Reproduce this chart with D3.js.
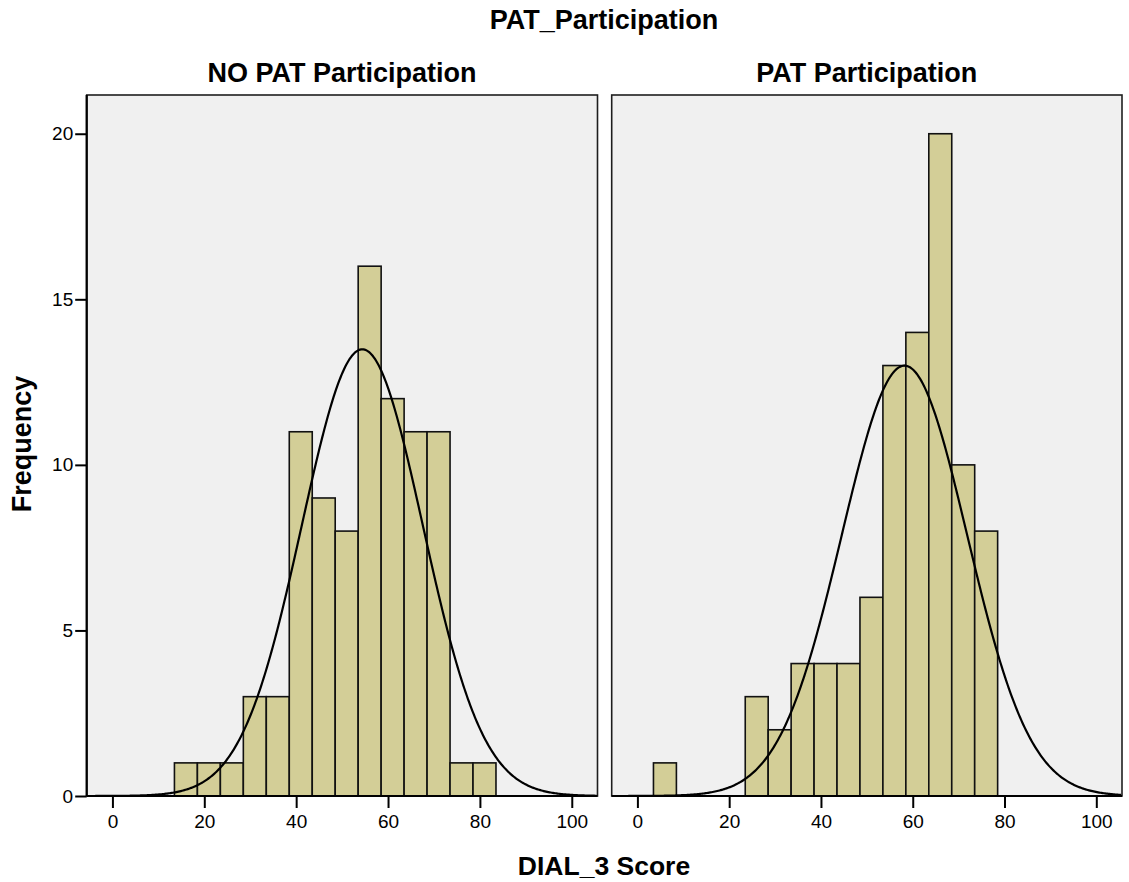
<!DOCTYPE html>
<html>
<head>
<meta charset="utf-8">
<script src="https://cdn.jsdelivr.net/npm/d3@7"></script>
<style>
  html, body { margin: 0; padding: 0; background: #ffffff; }
  svg { display: block; font-family: "Liberation Sans", Arial, sans-serif; }
</style>
</head>
<body>
<svg id="chart" width="1129" height="882"></svg>
<script>
// ---------- data ----------
const chartTitle = "PAT_Participation";
const panelTitles = ["NO PAT Participation", "PAT Participation"];
const xLabel = "DIAL_3 Score";
const yLabel = "Frequency";
const binWidth = 5;

const noPatBinStarts = [13.5, 18.5, 23.5, 28.5, 33.5, 38.5, 43.5, 48.5, 53.5, 58.5, 63.5, 68.5, 73.5, 78.5];
const noPatCounts    = [1, 1, 1, 3, 3, 11, 9, 8, 16, 12, 11, 11, 1, 1];
const patBinStarts   = [3.5, 23.5, 28.5, 33.5, 38.5, 43.5, 48.5, 53.5, 58.5, 63.5, 68.5, 73.5];
const patCounts      = [1, 3, 2, 4, 4, 4, 6, 13, 14, 20, 10, 8];

// fitted normal curves: [mean, std. deviation, N]
const noPatNormal = [54.4, 13.16, 89];
const patNormal   = [58.2, 13.66, 89];

const xTicks = [0, 20, 40, 60, 80, 100];
const yTicks = [0, 5, 10, 15, 20];
const xDomain = [-5.6, 105.6];
const yDomain = [0, 21.17];

// ---------- layout ----------
const svg = d3.select("#chart");
const panelTop = 95, panelBottom = 796;
const panels = [
  { x0: 86.7, x1: 597.5, starts: noPatBinStarts, counts: noPatCounts, fit: noPatNormal, title: panelTitles[0], yAxis: true },
  { x0: 611.7, x1: 1122, starts: patBinStarts, counts: patCounts, fit: patNormal, title: panelTitles[1], yAxis: false }
];
const barFill = "#d3ce97";
const bgFill = "#f0f0f0";

const y = d3.scaleLinear().domain(yDomain).range([panelBottom, panelTop]);

panels.forEach((p, i) => {
  const x = d3.scaleLinear().domain(xDomain).range([p.x0, p.x1]);
  const g = svg.append("g");
  const clipId = "clip" + i;
  svg.append("clipPath").attr("id", clipId)
    .append("rect").attr("x", p.x0).attr("y", panelTop).attr("width", p.x1 - p.x0).attr("height", panelBottom - panelTop);

  g.append("rect")
    .attr("x", p.x0).attr("y", panelTop)
    .attr("width", p.x1 - p.x0).attr("height", panelBottom - panelTop)
    .attr("fill", bgFill).attr("stroke", "#1e1e1e").attr("stroke-width", 1.6);

  const bins = p.starts.map((s, k) => ({ s, c: p.counts[k] }));
  g.selectAll("rect.bar").data(bins).enter().append("rect")
    .attr("class", "bar")
    .attr("x", d => x(d.s))
    .attr("y", d => y(d.c))
    .attr("width", d => x(d.s + binWidth) - x(d.s))
    .attr("height", d => y(0) - y(d.c))
    .attr("fill", barFill)
    .attr("stroke", "#111")
    .attr("stroke-width", 1.6);

  const [mu, sd, n] = p.fit;
  const pts = d3.range(xDomain[0], xDomain[1] + 0.01, 0.25).map(v =>
    [v, n * binWidth * Math.exp(-0.5 * ((v - mu) / sd) ** 2) / (sd * Math.sqrt(2 * Math.PI))]);
  g.append("path")
    .attr("clip-path", `url(#${clipId})`)
    .attr("d", d3.line().x(d => x(d[0])).y(d => y(d[1])).curve(d3.curveLinear)(pts))
    .attr("fill", "none").attr("stroke", "#000").attr("stroke-width", 2.2);

  // x axis
  const xa = g.append("g").attr("transform", `translate(0,${panelBottom})`)
    .call(d3.axisBottom(x).tickValues(xTicks).tickSize(12).tickPadding(7).tickFormat(d3.format("d")));
  xa.select(".domain").remove();
  xa.selectAll(".tick line").attr("stroke", "#000").attr("stroke-width", 2);
  xa.selectAll(".tick text").attr("font-size", 19).attr("fill", "#000")
    .attr("font-family", "'Liberation Sans', Arial, sans-serif");
  g.append("line").attr("x1", p.x0).attr("x2", p.x1).attr("y1", panelBottom).attr("y2", panelBottom)
    .attr("stroke", "#000").attr("stroke-width", 2.2);

  if (p.yAxis) {
    const ya = g.append("g").attr("transform", `translate(${p.x0},0)`)
      .call(d3.axisLeft(y).tickValues(yTicks).tickSize(11.5).tickPadding(2));
    ya.select(".domain").remove();
    ya.selectAll(".tick line").attr("stroke", "#000").attr("stroke-width", 2);
    ya.selectAll(".tick text").attr("font-size", 19).attr("fill", "#000")
      .attr("font-family", "'Liberation Sans', Arial, sans-serif");
    g.append("line").attr("x1", p.x0).attr("x2", p.x0).attr("y1", panelTop).attr("y2", panelBottom)
      .attr("stroke", "#000").attr("stroke-width", 2.2);
  }

  g.append("text")
    .attr("x", (p.x0 + p.x1) / 2).attr("y", 82)
    .attr("text-anchor", "middle").attr("font-weight", "bold").attr("font-size", 27)
    .text(p.title);
});

svg.append("text").attr("x", 604).attr("y", 29)
  .attr("text-anchor", "middle").attr("font-weight", "bold").attr("font-size", 27)
  .text(chartTitle);

svg.append("text").attr("x", 604).attr("y", 875)
  .attr("text-anchor", "middle").attr("font-weight", "bold").attr("font-size", 26.5)
  .text(xLabel);

svg.append("text").attr("transform", "translate(31,444) rotate(-90)")
  .attr("text-anchor", "middle").attr("font-weight", "bold").attr("font-size", 27)
  .text(yLabel);
</script>
</body>
</html>
